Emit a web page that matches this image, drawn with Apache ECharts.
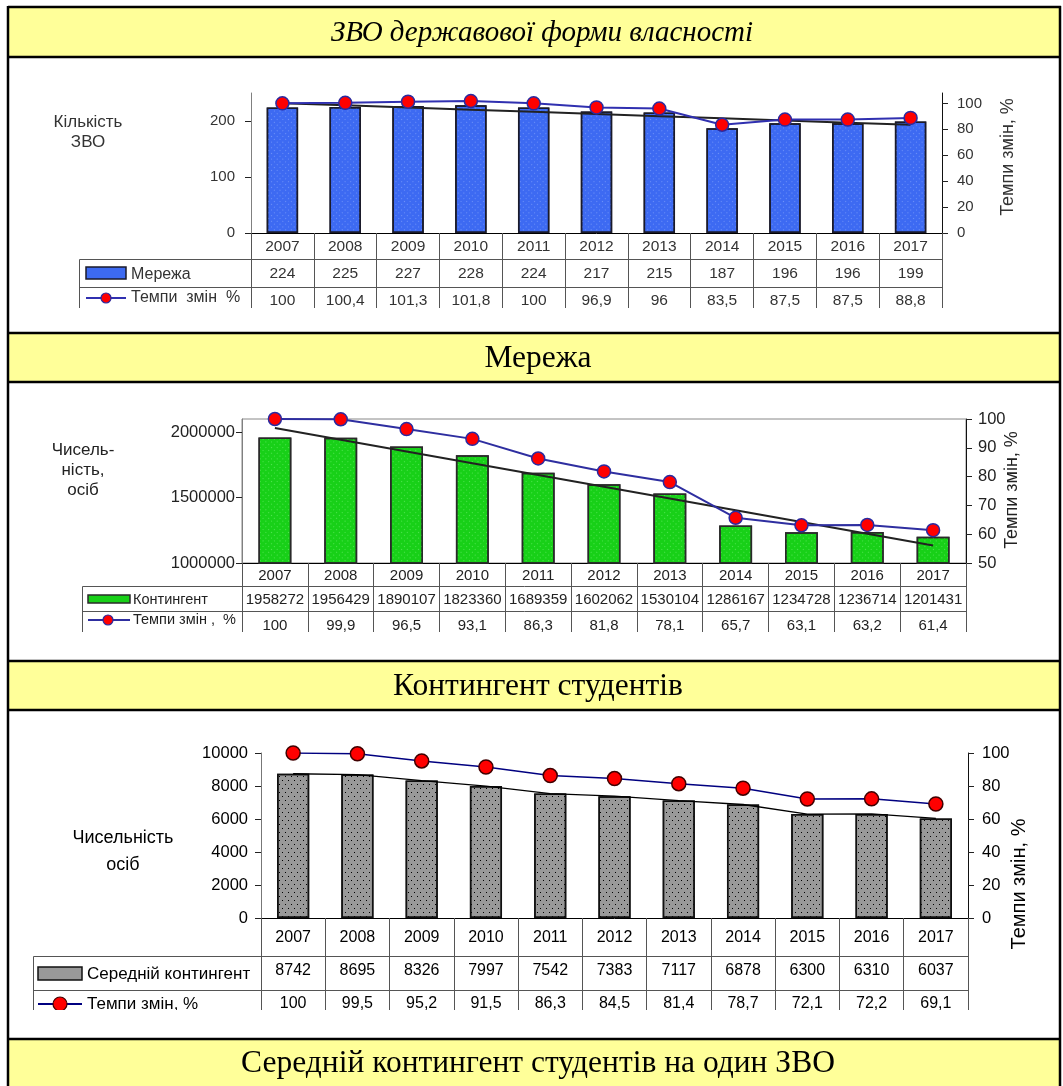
<!DOCTYPE html>
<html><head><meta charset="utf-8">
<script src="https://cdn.jsdelivr.net/npm/echarts@6/dist/echarts.min.js"></script>
<style>html,body{margin:0;padding:0;background:#fff}#c{width:1063px;height:1086px}</style>
</head><body><div id="c"></div>
<script>
// ---------- data ----------
const years = ['2007','2008','2009','2010','2011','2012','2013','2014','2015','2016','2017'];
const network = [224,225,227,228,224,217,215,187,196,196,199];
const networkRate = [100,100.4,101.3,101.8,100,96.9,96,83.5,87.5,87.5,88.8];
const contingent = [1958272,1956429,1890107,1823360,1689359,1602062,1530104,1286167,1234728,1236714,1201431];
const contingentRate = [100,99.9,96.5,93.1,86.3,81.8,78.1,65.7,63.1,63.2,61.4];
const average = [8742,8695,8326,7997,7542,7383,7117,6878,6300,6310,6037];
const averageRate = [100,99.5,95.2,91.5,86.3,84.5,81.4,78.7,72.1,72.2,69.1];
const ticks1L = [0,100,200];
const ticks1R = [0,20,40,60,80,100];
const ticks2L = [1000000,1500000,2000000];
const ticks2R = [50,60,70,80,90,100];
const ticks3L = [0,2000,4000,6000,8000,10000];
const ticks3R = [0,20,40,60,80,100];
const headerTexts = ['ЗВО державової форми власності','Мережа','Контингент студентів','Середній контингент студентів на один ЗВО'];
const rateAxisName = 'Темпи змін, %';

// ---------- helpers ----------
const SANS = 'Arial, "Liberation Sans", sans-serif';
const SERIF = '"Times New Roman", "Liberation Serif", serif';
const fmt = v => String(v).replace('.', ',');
function linTrend(arr){
  const n = arr.length; let sx=0, sy=0, sxy=0, sxx=0;
  arr.forEach((y,i)=>{sx+=i; sy+=y; sxy+=i*y; sxx+=i*i;});
  const b = (n*sxy - sx*sy)/(n*sxx - sx*sx), a = (sy - b*sx)/n;
  return arr.map((_,i)=> a + b*i);
}

const panels = [
  { grid:{left:251, top:93, width:691, height:140}, fs:15.5, afs:15, lfs:16, tfs:17, rfs:18, tc:'#333',
    bars:network, rate:networkRate, trend:linTrend(network),
    barName:'Мережа', rateName:'Темпи  змін  %',
    left:{min:0,max:250,ticks:ticks1L,margin:16,line:'#808080'},
    right:{min:0,max:108,ticks:ticks1R,margin:15},
    m:[5.5,33,59.5], rowTops:[259.5,287.5], cut:308, legendLeft:79.5, nextHeader:333,
    barColor:'#3d6af2', barBorder:'#1a1a2a', decalColor:'rgba(170,195,255,0.45)',
    lineColor:'#3030b0', lineWidth:2, sym:13, symBorder:'#2a2aa0', trendWidth:2, trendColor:'#222',
    leftTitle:{text:'Кількість\nЗВО', x:88, y:132, lh:20},
    rightTitle:{x:1008, y:157},
    sw:{x1:86,x2:126,barY:267,barH:12,lineY:298,mx:106,mr:5,tx:131},
    border:false },
  { grid:{left:242, top:419, width:724, height:144}, fs:15, afs:16.5, lfs:14.5, tfs:17, rfs:18, tc:'#222',
    bars:contingent, rate:contingentRate, trend:linTrend(contingent),
    barName:'Контингент', rateName:'Темпи змін ,  %',
    left:{min:1000000,max:2100000,ticks:ticks2L,margin:7,line:'#808080'},
    right:{min:50,max:100,ticks:ticks2R,margin:12},
    m:[5,29.5,55], rowTops:[586.5,611.5], cut:632, legendLeft:82.5, nextHeader:661,
    barColor:'#18d018', barBorder:'#2a2a2a', decalColor:'rgba(150,255,150,0.45)',
    lineColor:'#2e2ea0', lineWidth:2, sym:13, symBorder:'#2a2aa0', trendWidth:2, trendColor:'#222',
    leftTitle:{text:'Чисель-\nність,\nосіб', x:83, y:470, lh:20},
    rightTitle:{x:1012, y:490},
    sw:{x1:88,x2:130,barY:595,barH:8,lineY:620,mx:108,mr:5,tx:133},
    border:true },
  { grid:{left:261, top:753, width:707, height:165}, fs:16, afs:16.5, lfs:17, tfs:18, rfs:20, tc:'#000',
    bars:average, rate:averageRate, trend:average,
    barName:'Середній контингент', rateName:'Темпи змін, %',
    left:{min:0,max:10000,ticks:ticks3L,margin:13,line:'#777'},
    right:{min:0,max:100,ticks:ticks3R,margin:14},
    m:[11.5,44.5,78], rowTops:[956.5,990.5], cut:1010, legendLeft:33.5, nextHeader:1039,
    barColor:'#999999', barBorder:'#111', decalColor:'#000',
    lineColor:'#000080', lineWidth:1.5, sym:14, symBorder:'#400000', trendWidth:1.3, trendColor:'#000',
    leftTitle:{text:'Чисельність\nосіб', x:123, y:852, lh:27},
    rightTitle:{x:1019, y:884},
    sw:{x1:38,x2:82,barY:967,barH:13,lineY:1004,mx:60,mr:7,tx:87},
    border:false, dots:true }
];

const grids=[], xAxes=[], yAxes=[], series=[], graphics=[];

panels.forEach((p, gi) => {
  const g = p.grid, bottom = g.top + g.height, right = g.left + g.width;
  grids.push(Object.assign({}, g, p.border ? {show:true, borderColor:'#888', borderWidth:1} : {show:false}));
  const lab = (margin) => ({interval:0, margin, fontSize:p.fs, color:p.tc, fontFamily:SANS});
  const xBase = xAxes.length;
  xAxes.push({gridIndex:gi, type:'category', data:years, position:'bottom', boundaryGap:true,
    axisLine:{show:true, onZero:false, lineStyle:{color:'#000', width:1}},
    axisTick:{show:true, interval:0, alignWithLabel:false, length:p.cut - bottom + 4, lineStyle:{color:'#555', width:1}},
    axisLabel:lab(p.m[0]), splitLine:{show:false}});
  xAxes.push({gridIndex:gi, type:'category', data:p.bars.map(String), position:'bottom',
    axisLine:{show:false, onZero:false}, axisTick:{show:false}, axisLabel:lab(p.m[1]), splitLine:{show:false}});
  xAxes.push({gridIndex:gi, type:'category', data:p.rate.map(fmt), position:'bottom',
    axisLine:{show:false, onZero:false}, axisTick:{show:false}, axisLabel:lab(p.m[2]), splitLine:{show:false}});
  const yBase = yAxes.length;
  const alab = (ticks, margin) => ({customValues:ticks, margin, fontSize:p.afs, color:p.tc, fontFamily:SANS, formatter:v=>String(v)});
  yAxes.push({gridIndex:gi, type:'value', position:'left', min:p.left.min, max:p.left.max,
    axisLine:{show:true, lineStyle:{color:p.left.line, width:1}},
    axisTick:{show:true, length:6, customValues:p.left.ticks, lineStyle:{color:'#222'}},
    axisLabel:alab(p.left.ticks, p.left.margin), splitLine:{show:false}});
  yAxes.push({gridIndex:gi, type:'value', position:'right', min:p.right.min, max:p.right.max,
    axisLine:{show:true, lineStyle:{color:'#111', width:1}},
    axisTick:{show:true, length:6, customValues:p.right.ticks, lineStyle:{color:'#222'}},
    axisLabel:alab(p.right.ticks, p.right.margin), splitLine:{show:false}});

  const decal = p.dots
    ? {symbol:'rect', symbolSize:1, color:p.decalColor, dashArrayX:[[1,5],[0,3,1,2]], dashArrayY:[1,3], rotation:0}
    : {symbol:'rect', symbolSize:1, color:p.decalColor, dashArrayX:[1,3], dashArrayY:[1,3], rotation:Math.PI/4};
  series.push({type:'bar', name:p.barName, xAxisIndex:xBase, yAxisIndex:yBase, data:p.bars, barWidth:'50%',
    itemStyle:{color:p.barColor, borderColor:p.barBorder, borderWidth:1.5, decal}, silent:true});
  series.push({type:'line', xAxisIndex:xBase, yAxisIndex:yBase, data:p.trend, symbol:'none',
    lineStyle:{color:p.trendColor, width:p.trendWidth}, silent:true, z:3});
  series.push({type:'line', name:p.rateName, xAxisIndex:xBase, yAxisIndex:yBase+1, data:p.rate,
    symbol:'circle', symbolSize:p.sym, showSymbol:true,
    itemStyle:{color:'#ff0000', borderColor:p.symBorder, borderWidth:1.5},
    lineStyle:{color:p.lineColor, width:p.lineWidth}, silent:true, z:4});

  // table lines
  const lc = '#555';
  p.rowTops.forEach(y => graphics.push({type:'line', z:20, shape:{x1:p.legendLeft, y1:y, x2:right+0.5, y2:y}, style:{stroke:lc, lineWidth:1}}));
  graphics.push({type:'line', z:20, shape:{x1:p.legendLeft, y1:p.rowTops[0], x2:p.legendLeft, y2:p.cut+4}, style:{stroke:lc, lineWidth:1}});
  // legend swatches
  const s = p.sw;
  graphics.push({type:'rect', z:20, shape:{x:s.x1, y:s.barY, width:s.x2-s.x1, height:s.barH},
    style:{fill:p.barColor, stroke:p.barBorder, lineWidth:1.5}});
  graphics.push({type:'text', z:20, style:{text:p.barName, x:s.tx, y:(p.rowTops[0]+p.rowTops[1])/2+1, fill:p.tc,
    font:p.lfs+'px '+SANS, textAlign:'left', textVerticalAlign:'middle'}});
  graphics.push({type:'line', z:20, shape:{x1:s.x1, y1:s.lineY, x2:s.x2, y2:s.lineY}, style:{stroke:p.lineColor, lineWidth:2}});
  graphics.push({type:'circle', z:21, shape:{cx:s.mx, cy:s.lineY, r:s.mr}, style:{fill:'#ff0000', stroke:p.symBorder, lineWidth:1.2}});
  graphics.push({type:'text', z:20, style:{text:p.rateName, x:s.tx, y:s.lineY, fill:p.tc,
    font:p.lfs+'px '+SANS, textAlign:'left', textVerticalAlign:'middle'}});
  // axis titles
  graphics.push({type:'text', z:20, style:{text:p.leftTitle.text, x:p.leftTitle.x, y:p.leftTitle.y, fill:p.tc,
    font:p.tfs+'px '+SANS, lineHeight:p.leftTitle.lh, textAlign:'center', textVerticalAlign:'middle'}});
  graphics.push({type:'text', z:20, x:p.rightTitle.x, y:p.rightTitle.y, rotation:Math.PI/2,
    style:{text:rateAxisName, x:0, y:0, fill:p.tc, font:p.rfs+'px '+SANS, textAlign:'center', textVerticalAlign:'middle'}});
  // clip cover for cut-off table
  graphics.push({type:'rect', z:100, shape:{x:10, y:p.cut, width:1049, height:p.nextHeader - p.cut}, style:{fill:'#fff'}});
});

// headers
const headerBoxes = [[7,57],[333,382],[661,710],[1039,1090]];
headerBoxes.forEach((h, i) => {
  graphics.push({type:'rect', z:110, shape:{x:8, y:h[0], width:1052, height:h[1]-h[0]}, style:{fill:'#ffff99'}});
  graphics.push({type:'line', z:111, shape:{x1:8, y1:h[0], x2:1061, y2:h[0]}, style:{stroke:'#000', lineWidth:2.5}});
  graphics.push({type:'line', z:111, shape:{x1:8, y1:h[1], x2:1061, y2:h[1]}, style:{stroke:'#000', lineWidth:2.5}});
  graphics.push({type:'text', z:112, style:{text:headerTexts[i], x:(i===0?542:538), y:(h[0]+Math.min(h[1],1086))/2 + 1.5, fill:'#000',
    font:(i===0?'italic 29px ':'31.5px ')+SERIF, textAlign:'center', textVerticalAlign:'middle'}});
});
graphics.push({type:'line', z:113, shape:{x1:8, y1:6, x2:8, y2:1086}, style:{stroke:'#000', lineWidth:2.5}});
graphics.push({type:'line', z:113, shape:{x1:1060, y1:6, x2:1060, y2:1086}, style:{stroke:'#000', lineWidth:2.5}});

const chart = echarts.init(document.getElementById('c'), null, {renderer:'canvas', width:1063, height:1086});
chart.setOption({
  animation:false,
  backgroundColor:'#fff',
  grid:grids, xAxis:xAxes, yAxis:yAxes, series:series,
  graphic:{elements:graphics}
});
</script></body></html>
